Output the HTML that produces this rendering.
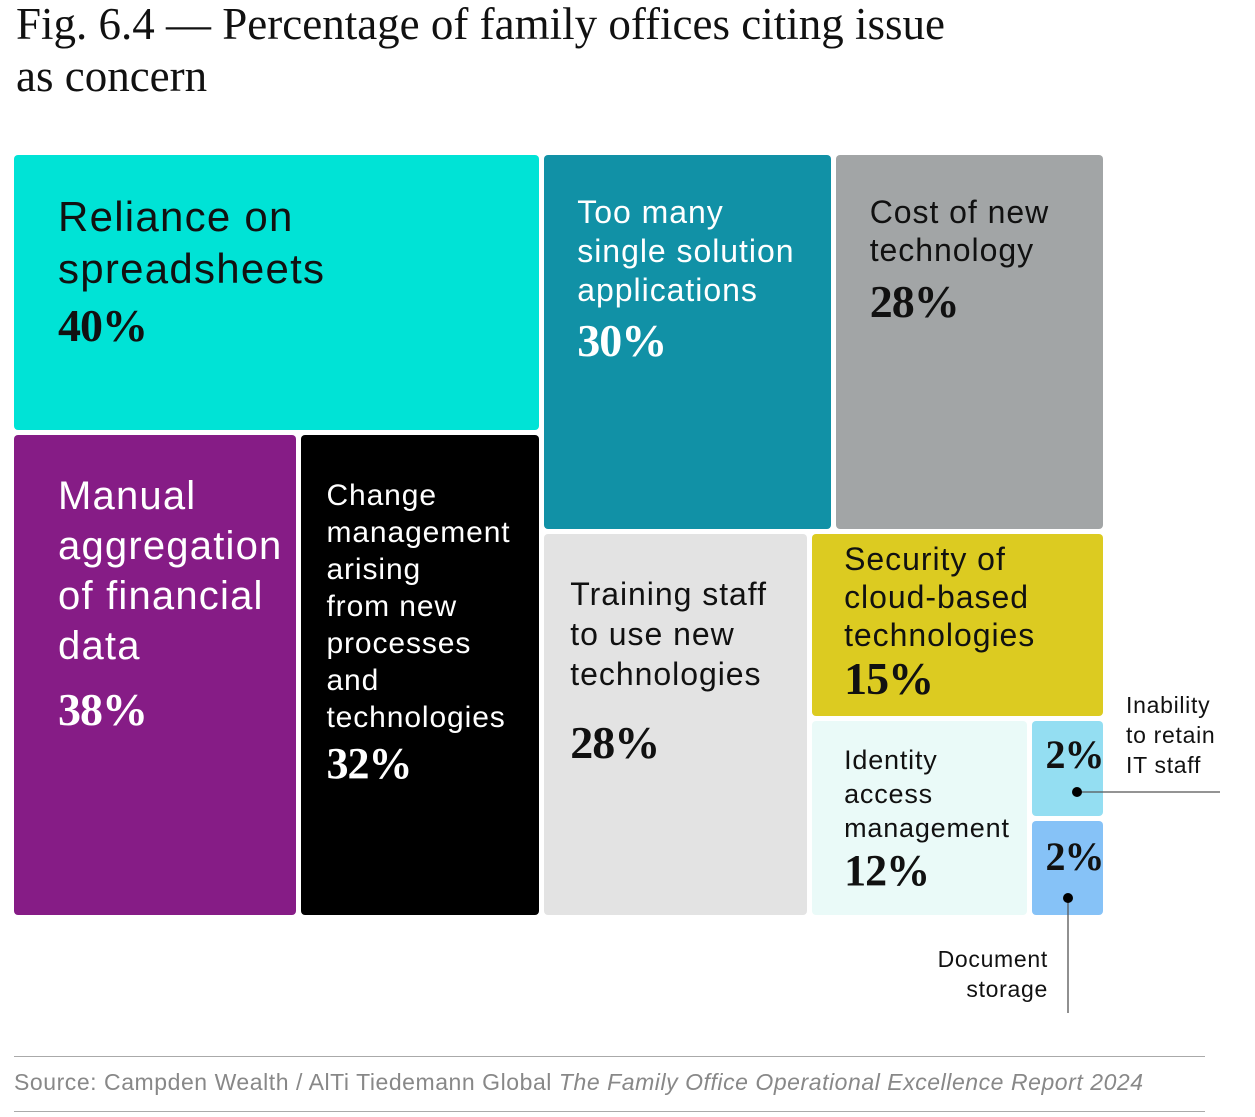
<!DOCTYPE html>
<html><head><meta charset="utf-8">
<style>
body{margin:0;width:1255px;height:1117px;background:#fff;position:relative;overflow:hidden;font-family:"Liberation Sans",sans-serif}
.title{position:absolute;left:16px;top:-2px;font-family:"Liberation Serif",serif;font-size:45px;line-height:52px;color:#111}
.cell{position:absolute;border-radius:4px;box-sizing:border-box}
.lab{position:absolute;white-space:nowrap}
.pct{font-family:"Liberation Serif",serif;font-weight:bold;display:block;letter-spacing:-1px}
.ann{position:absolute;font-size:23px;line-height:30px;color:#111;letter-spacing:0.7px}
.hr{position:absolute;left:14px;width:1191px;height:1px;background:#aaa}
</style></head><body>
<div class="title">Fig. 6.4 — Percentage of family offices citing issue<br>as concern</div>
<div id="chart"></div>
<div class="ann" style="left:1126px;top:690px">Inability<br>to retain<br>IT staff</div>
<div class="ann" style="left:880px;top:944px;width:168px;text-align:right">Document<br>storage</div>
<svg style="position:absolute;left:0;top:0" width="1255" height="1117">
<line x1="1077" y1="792" x2="1220" y2="792" stroke="#555" stroke-width="1.3"/>
<circle cx="1077" cy="792" r="5" fill="#000"/>
<line x1="1068" y1="898" x2="1068" y2="1013" stroke="#555" stroke-width="1.3"/>
<circle cx="1068" cy="898" r="5" fill="#000"/>
</svg>
<div class="hr" style="top:1056px"></div>
<div style="position:absolute;left:14px;top:1069px;font-size:23px;color:#888;letter-spacing:0.55px">Source: Campden Wealth / AlTi Tiedemann Global <i>The Family Office Operational Excellence Report 2024</i></div>
<div class="hr" style="top:1111px"></div>
<script>
const labels=["Reliance on<br>spreadsheets","Manual<br>aggregation<br>of financial<br>data","Change<br>management<br>arising<br>from new<br>processes<br>and<br>technologies","Too many<br>single solution<br>applications","Cost of new<br>technology","Training staff<br>to use new<br>technologies","Security of<br>cloud-based<br>technologies","Identity<br>access<br>management","",""];
const values=[40,38,32,30,28,28,15,12,2,2];
const names=["reliance-on-spreadsheets","manual-aggregation","change-management","too-many-applications","cost-of-new-technology","training-staff","security-of-cloud","identity-access-management","inability-to-retain-it-staff","document-storage"];
const colors=["#00e3d6","#861c86","#000000","#1191a6","#a2a5a6","#e3e3e3","#dccb21","#eafaf8","#94def2","#86c2f7"];
const textColors=["#111","#fff","#fff","#fff","#111","#111","#111","#111","#111","#111"];
// style per cell: [padX,padY,fontSize,lineHeight,pctSize,pctGap]
const styles=[[44,36,42,52,46,6],[44,36,40,50,46,14],[25,42,30,37,44,4],[33,38,32,39,46,6],[34,38,32,38,46,8],[26,40,32,40,46,24],[32,6,32,38,46,0],[32,22,27,34,44,2],[14,12,0,0,40,0],[14,14,0,0,40,0]];
const tree={d:'h',c:[{d:'v',c:[0,{d:'h',c:[1,2]}]},{d:'v',c:[{d:'h',c:[3,4]},{d:'h',c:[5,{d:'v',c:[6,{d:'h',c:[7,{d:'v',c:[8,9]}]}]}]}]}]};
const G=5, X0=14,Y0=155,W=1089,H=760;
function sum(n){return typeof n==='number'?values[n]:n.c.reduce((a,b)=>a+sum(b),0);}
const chart=document.getElementById('chart');
function lay(n,x,y,w,h){
  if(typeof n==='number'){draw(n,x,y,w,h);return;}
  const tot=sum(n), avail=(n.d==='h'?w:h)-G*(n.c.length-1);
  let p=n.d==='h'?x:y;
  n.c.forEach(ch=>{const s=avail*sum(ch)/tot;
    if(n.d==='h')lay(ch,p,y,s,h);else lay(ch,x,p,w,s);p+=s+G;});
}
function draw(i,x,y,w,h){
  const d=document.createElement('div');
  d.className='cell';
  
  
  d.style.cssText=`left:${x}px;top:${y}px;width:${w}px;height:${h}px;background:${colors[i]};color:${textColors[i]}`;
  const s=styles[i];
  const t=document.createElement('div');
  t.className='lab';
  
  
  t.style.cssText=`left:${s[0]}px;top:${s[1]}px;font-size:${s[2]}px;line-height:${s[3]}px;letter-spacing:${(s[2]*0.03).toFixed(2)}px`;
  t.innerHTML=(labels[i]?labels[i]:'')+`<span class="pct" style="font-size:${s[4]}px;line-height:${s[4]+4}px;margin-top:${s[5]}px;color:${textColors[i]}">${values[i]}%</span>`;
  d.appendChild(t);chart.appendChild(d);
}
lay(tree,X0,Y0,W,H);
</script>
</body></html>
